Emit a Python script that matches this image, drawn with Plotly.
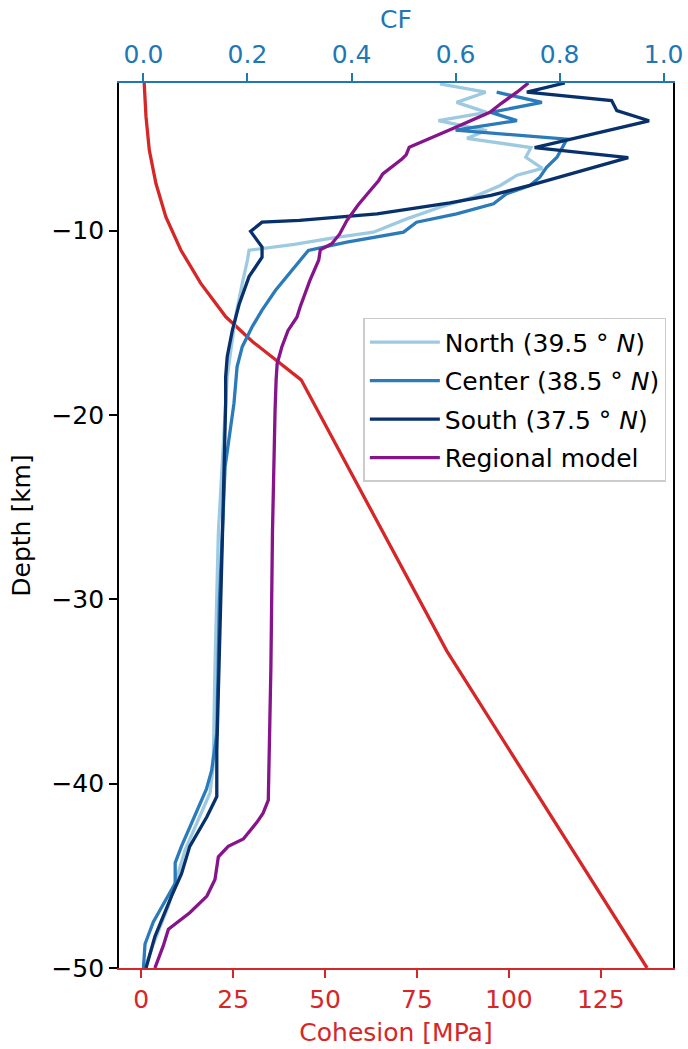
import plotly.graph_objects as go

# ---------------- data ----------------
north_depth = [-2.05, -2.5, -3.05, -3.59, -4.04, -4.58, -5.0, -5.5, -6.03, -6.63, -7.0, -7.56, -8.19, -8.74, -9.37,
               -10.09, -10.4, -10.75, -11.07, -11.6, -12.87, -14.68, -16.49, -17.93, -19.38, -26.4, -33.7, -39.1,
               -40.5, -43.6, -46.7, -48.7, -50.0]
north_cf = [0.570, 0.658, 0.602, 0.660, 0.567, 0.660, 0.622, 0.745, 0.735, 0.767, 0.718, 0.686, 0.634, 0.570, 0.506,
            0.442, 0.365, 0.29, 0.203, 0.200, 0.190, 0.177, 0.168, 0.161, 0.158, 0.144, 0.1375, 0.134,
            0.128, 0.080, 0.047, 0.019, 0.003]

center_depth = [-2.5, -3.05, -3.59, -4.04, -4.56, -5.05, -6.03, -6.57, -7.11, -7.56, -8.01, -8.55, -9.10, -9.55,
                -10.09, -10.63, -11.08, -12.15, -13.24, -14.32, -15.22, -16.30, -17.39, -19.38, -21.0, -22.8,
                -30.1, -37.3, -39.3, -40.3, -43.4, -44.3, -45.4, -47.5, -48.7, -50.0]
center_cf = [0.679, 0.766, 0.668, 0.718, 0.60, 0.814, 0.795, 0.775, 0.762, 0.743, 0.698, 0.673, 0.602, 0.525,
             0.500, 0.391, 0.317, 0.286, 0.254, 0.228, 0.209, 0.190, 0.180, 0.174, 0.166, 0.157,
             0.146, 0.141, 0.131, 0.121, 0.073, 0.061, 0.061, 0.019, 0.003, 0.0]

south_depth = [-2.0, -2.5, -2.95, -3.5, -4.05, -5.5, -6.05, -7.1, -7.55, -8.1, -8.5, -9.1, -9.45, -9.55, -10.05,
               -10.9, -11.45, -12.5, -14.0, -15.4, -16.85, -17.95, -19.4, -26.4, -33.7, -38.2, -40.7, -41.8,
               -43.4, -44.9, -46.1, -47.2, -48.3, -50.0]
south_cf = [0.81, 0.737, 0.90, 0.91, 0.972, 0.752, 0.932, 0.80, 0.743, 0.668, 0.589, 0.449, 0.30, 0.228, 0.206,
            0.228, 0.228, 0.203, 0.184, 0.171, 0.161, 0.158, 0.158, 0.152, 0.146, 0.141, 0.141, 0.122,
            0.089, 0.073, 0.054, 0.038, 0.022, 0.005]

regional_depth = [-2.0, -2.5, -3.1, -3.59, -4.45, -5.07, -5.48, -5.9, -6.12, -6.93, -7.3, -7.83, -8.6, -9.46, -10.2,
                  -10.72, -11.05, -11.6, -12.71, -14.16, -14.70, -15.42, -16.32, -17.23, -18.13, -19.76, -26.4,
                  -33.7, -39.6, -40.9, -41.6, -42.1, -43.0, -43.4, -43.97, -45.2, -46.1, -47.0, -47.9, -48.8, -50.0]
regional_cf = [0.740, 0.718, 0.688, 0.666, 0.596, 0.545, 0.511, 0.505, 0.497, 0.460, 0.452, 0.436, 0.413, 0.391, 0.377,
               0.362, 0.340, 0.337, 0.320, 0.301, 0.295, 0.278, 0.266, 0.257, 0.255, 0.253, 0.248,
               0.245, 0.242, 0.240, 0.230, 0.218, 0.192, 0.163, 0.144, 0.1375, 0.122, 0.089, 0.048, 0.038, 0.022]

cohesion_depth = [-2.0, -3.84, -5.65, -7.45, -9.26, -11.07, -12.87, -14.68, -16.03, -17.03, -18.1, -32.8, -50.0]
cohesion_mpa = [0.8, 1.3, 2.2, 4.0, 6.7, 10.8, 16.2, 23.0, 30.3, 36.6, 43.5, 83.1, 137.6]

series_names = ["North (39.5 ° <i>N</i>)", "Center (38.5 ° <i>N</i>)",
                "South (37.5 ° <i>N</i>)", "Regional model"]
series_colors = ["#9ecae1", "#2b7bba", "#08306b", "#86148a"]

cf_ticks = [0.0, 0.2, 0.4, 0.6, 0.8, 1.0]
cf_ticklabels = ["0.0", "0.2", "0.4", "0.6", "0.8", "1.0"]
coh_ticks = [0, 25, 50, 75, 100, 125]
depth_ticks = [-10, -20, -30, -40, -50]
depth_ticklabels = ["\u221210", "\u221220", "\u221230", "\u221240", "\u221250"]

RED = "#d62728"
BLUE = "#1f77b4"
FONT = "DejaVu Sans"
FS = 25

fig = go.Figure()

fig.add_trace(go.Scatter(x=cohesion_mpa, y=cohesion_depth, mode="lines", xaxis="x", yaxis="y",
                         line=dict(color=RED, width=3.3), showlegend=False, name="Cohesion"))

for i, (d, cf, nm, col) in enumerate(zip([north_depth, center_depth, south_depth, regional_depth],
                                         [north_cf, center_cf, south_cf, regional_cf], series_names, series_colors)):
    fig.add_trace(go.Scatter(x=cf, y=d, mode="lines", xaxis="x2", yaxis="y", legendgroup=f"g{i}",
                             line=dict(color=col, width=3.3), name=nm))

fig.update_layout(
    width=688, height=1049,
    margin=dict(l=119, r=15, t=83, b=81, autoexpand=False),
    paper_bgcolor="white", plot_bgcolor="white",
    font=dict(family=FONT, size=FS, color="black"),
    xaxis=dict(range=[-6.05, 144.65], tickvals=coh_ticks, ticks="outside", ticklen=8, tickwidth=1.6,
               tickcolor=RED, showline=True, linecolor=RED, linewidth=1.6, showgrid=False, zeroline=False,
               automargin=False, tickfont=dict(color=RED, size=FS, family=FONT),
               title=dict(text="Cohesion [MPa]", font=dict(color=RED, size=FS, family=FONT), standoff=11)),
    xaxis2=dict(range=[-0.047, 1.018], overlaying="x", side="top", anchor="y", tickvals=cf_ticks,
                ticktext=cf_ticklabels, ticks="outside", ticklen=8, tickwidth=1.6, tickcolor=BLUE,
                showline=True, linecolor=BLUE, linewidth=1.6, showgrid=False, zeroline=False,
                automargin=False, tickfont=dict(color=BLUE, size=FS, family=FONT),
                title=dict(text="CF", font=dict(color=BLUE, size=FS, family=FONT), standoff=4)),
    yaxis=dict(range=[-50, -2], tickvals=depth_ticks, ticktext=depth_ticklabels, ticks="outside", ticklen=8,
               tickwidth=1.6, tickcolor="black", showline=True, mirror=True, linecolor="black", linewidth=1.6,
               showgrid=False, zeroline=False, automargin=False,
               tickfont=dict(color="black", size=FS, family=FONT),
               title=dict(text="Depth [km]", font=dict(color="black", size=FS, family=FONT), standoff=14)),
    legend=dict(x=0.988, y=0.7345, xanchor="right", yanchor="top", bgcolor="white",
                bordercolor="#cccccc", borderwidth=1.5, font=dict(family=FONT, size=FS, color="black"),
                tracegroupgap=3, itemwidth=70),
)

fig.write_html("out.html")
